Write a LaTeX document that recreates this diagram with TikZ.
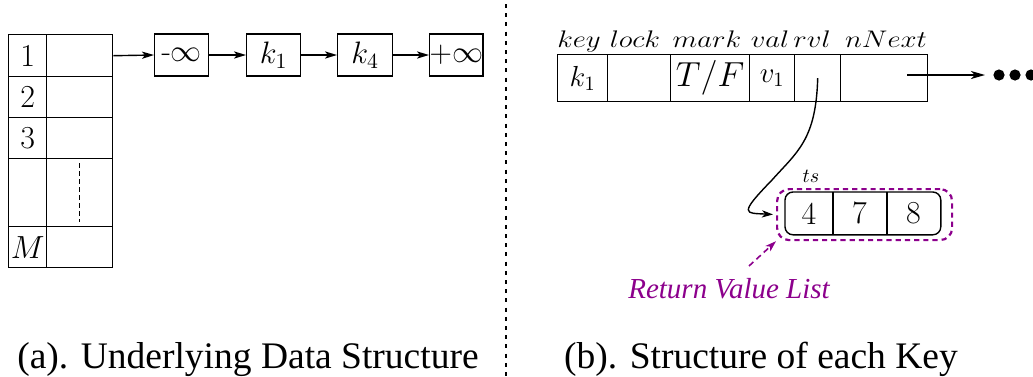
\documentclass[tikz,border=0pt]{standalone}
\usepackage{fix-cm}
\usepackage{fontspec}
\usepackage{graphicx}
\usetikzlibrary{arrows.meta}
\IfFontExistsTF{LiberationSerif-Regular.ttf}
  {\newfontfamily\timesfont{LiberationSerif-Regular.ttf}[ItalicFont=LiberationSerif-Italic.ttf]}
  {\newfontfamily\timesfont{Liberation Serif}}
\definecolor{rvpurple}{RGB}{140,0,140}
% field names above the record are set wide
\newcommand{\widefield}[1]{\scalebox{1.2}[1]{#1}}

\begin{document}
\begin{tikzpicture}[x=0.5pt,y=-0.5pt,
  box/.style={draw, line width=0.7pt, rectangle, inner sep=0pt, anchor=north west},
  lbox/.style={draw, line width=0.7pt, rectangle, inner sep=0pt, anchor=west,
               minimum height=21pt, font=\fontsize{15.5}{18}\selectfont},
  tbl/.style={font=\fontsize{16}{19}\selectfont},
  rec/.style={font=\fontsize{14.5}{17}\selectfont},
  fld/.style={anchor=base, inner sep=0pt, font=\fontsize{12}{14}\selectfont},
  arr/.style={line width=0.7pt, -{Stealth[length=6pt,width=3.6pt,inset=1.5pt]}},
  dot/.style={circle, fill=black, inner sep=0pt, minimum size=5.6pt},
  num/.style={inner sep=0pt, anchor=north west, minimum height=21pt,
              font=\fontsize{16}{19}\selectfont},
  caption/.style={anchor=base, inner sep=0pt, font=\timesfont\fontsize{18.75}{22}\selectfont}
]
\useasboundingbox (0,0) rectangle (1033,376);

% ---------- (a) table of lists ----------
\node[box,tbl,minimum width=19pt,minimum height=21pt]   (i1) at (8,34)  {1};
\node[box,minimum width=33pt,minimum height=21pt]       (p1) at (46,34) {};
\node[box,tbl,minimum width=19pt,minimum height=20.5pt] (i2) at (8,76)  {2};
\node[box,minimum width=33pt,minimum height=20.5pt]     (p2) at (46,76) {};
\node[box,tbl,minimum width=19pt,minimum height=20.5pt] (i3) at (8,117) {3};
\node[box,minimum width=33pt,minimum height=20.5pt]     (p3) at (46,117) {};
\node[box,minimum width=19pt,minimum height=34pt]       (i4) at (8,158) {};
\node[box,minimum width=33pt,minimum height=34pt]       (p4) at (46,158) {};
\node[box,tbl,minimum width=19pt,minimum height=20.5pt] (i5) at (8,226) {$M$};
\node[box,minimum width=33pt,minimum height=20.5pt]     (p5) at (46,226) {};
\draw[line width=0.7pt, dash pattern=on 2.5pt off 1.5pt]
  ([yshift=-2.5pt]p4.north) -- ([yshift=2.5pt]p4.south);

% sorted list of row 1
\node[lbox,minimum width=27pt]   (minf) at (154,55) {-$\infty$};
\node[lbox,minimum width=27pt]   (lk1)  at (246,55) {$k_1$};
\node[lbox,minimum width=27.5pt] (lk4)  at (337,55) {$k_4$};
\node[lbox,minimum width=26.5pt] (pinf) at (429,55) {+$\infty$};
\draw[arr] (p1.east) -- (minf.west);
\draw[arr] (minf.east) -- (lk1.west);
\draw[arr] (lk1.east) -- (lk4.west);
\draw[arr] (lk4.east) -- (pinf.west);

% separator
\coordinate (septop) at (506,4);
\coordinate (sepbot) at (506,376);
\draw[line width=1.2pt, dash pattern=on 2pt off 2.6pt] (septop) -- (sepbot);

% ---------- (b) one key record ----------
\node[box,rec,minimum width=25pt,minimum height=23.5pt]   (key)  at (557,54) {$k_1$};
\node[box,minimum width=31.5pt,minimum height=23.5pt]     (lock) at (607,54) {};
\node[box,rec,minimum width=39.5pt,minimum height=23.5pt] (mark) at (670,54) {\scalebox{1.2}{$T/F$}};
\node[box,rec,minimum width=22.5pt,minimum height=23.5pt] (val)  at (749,54) {\raisebox{-1pt}{$v_1$}};
\node[box,minimum width=23pt,minimum height=23.5pt]       (rvl)  at (794,54) {};
\node[box,minimum width=43.5pt,minimum height=23.5pt]     (next) at (840,54) {};

\node[fld] (fkey)  at (579,47) {\widefield{$key$}};
\node[fld] (flock) at (635,47) {\widefield{$lock$}};
\node[fld] (fmark) at (707,47) {\widefield{$mark$}};
\node[fld] (fval)  at (770,47) {\widefield{$val$}};
\node[fld] (frvl)  at (812,47) {\widefield{$rvl$}};
\node[fld] (fnext) at (886,47) {\widefield{$nNext$}};

% next pointer
\coordinate (nstart) at (907,75);
\node[dot] (d1) at (999,75) {};
\node[dot] (d2) at (1015,75) {};
\node[dot] (d3) at (1031,75) {};
\draw[line width=0.7pt, -{Stealth[length=7pt,width=4pt,inset=2pt]}, shorten >=4pt]
  (nstart) -- (d1.west);

% return value list
\node[draw=rvpurple, line width=1.1pt, dash pattern=on 2.6pt off 2pt,
      rounded corners=6pt, minimum width=87.5pt, minimum height=25.5pt,
      inner sep=0pt, anchor=north west] (rvlist) at (776,188) {};
\node[num,minimum width=23.5pt] (c4) at (785,192) {4};
\node[num,minimum width=27pt]   (c7) at (832,192) {7};
\node[num,minimum width=27pt]   (c8) at (886,192) {8};
\draw[line width=0.7pt, rounded corners=4pt] (c4.north west) rectangle (c8.south east);
\draw[line width=0.7pt] (c4.north east) -- (c4.south east);
\draw[line width=0.7pt] (c7.north east) -- (c7.south east);
\node[anchor=base, inner sep=0pt, font=\fontsize{10}{12}\selectfont] (ts) at (811,182) {$ts$};

\draw[line width=0.7pt, -{Stealth[length=5.5pt,width=3.6pt,inset=1.5pt]}, shorten >=1.5pt]
  (rvl.center) .. controls (816,140) and (797,152) .. (772,180)
               .. controls (738,215) and (745,213) .. (rvlist.west);

\node[anchor=base, inner sep=0pt, text=rvpurple,
      font=\timesfont\itshape\fontsize{14.5}{17}\selectfont] (rvtext) at (729,298) {Return Value List};
\coordinate (rvstart) at (749,266);
\draw[rvpurple, line width=0.8pt, dash pattern=on 3pt off 2pt,
      -{Stealth[length=5.5pt,width=3.6pt,inset=1.5pt]}] (rvstart) -- (rvlist.south west);

% ---------- captions ----------
\node[caption] (capa) at (248,368) {(a). Underlying Data Structure};
\node[caption] (capb) at (761,368) {(b). Structure of each Key};
\end{tikzpicture}
\end{document}
